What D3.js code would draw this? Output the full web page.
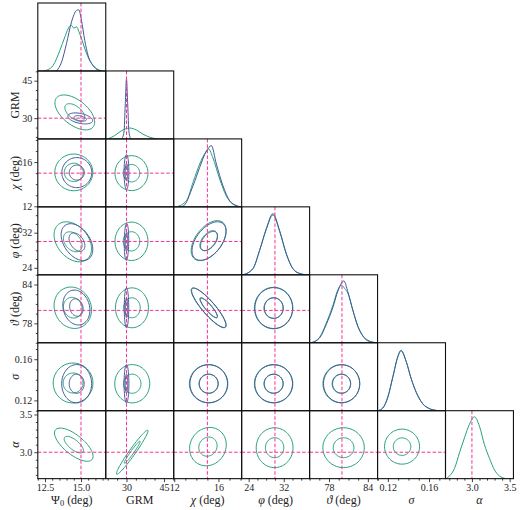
<!DOCTYPE html>
<html><head><meta charset="utf-8">
<script src="https://cdn.jsdelivr.net/npm/d3@7/dist/d3.min.js"></script>
<style>body{margin:0;background:#fff} svg{display:block}</style>
</head><body>
<svg id="corner" width="523" height="510"></svg>
<script>
// ================= DATA =================
const domains=[[12.0,16.72],[21.7,48.9],[11.95,18.1],[22.4,37.9],[75.0,85.5],[0.110,0.176],[2.65,3.55]];
const majorTicks=[[12.5,15.0],[30,45],[12,16],[24,32],[78,84],[0.12,0.16],[3.0,3.5]];
const tickText=[["12.5","15.0"],["30","45"],["12","16"],["24","32"],["78","84"],["0.12","0.16"],["3.0","3.5"]];
const minorStep=[0.5,3.75,1,2,1.5,0.01,0.1];
const truths=[15,30,15,30,80,null,3.0];
// label pieces: [text, style] style: "" roman, "i" italic, "s" subscript
const labels=[
 [["Ψ",""],["0","s"],[" (deg)",""]],
 [["GRM",""]],
 [["χ","i"],[" (deg)",""]],
 [["φ","i"],[" (deg)",""]],
 [["ϑ","i"],[" (deg)",""]],
 [["σ","i"]],
 [["α","i"]]
];

// 1D marginals: [value, height as fraction of the panel]
const margGreen=[
 [[12.42,0],[12.72,.02],[13.06,.08],[13.53,.30],[13.88,.50],[14.22,.66],[14.34,.67],[14.50,.63],[14.69,.65],[14.85,.58],[15.03,.48],[15.38,.26],[15.73,.11],[16.08,.035],[16.42,0]],
 [[22.6,0],[25.3,.05],[28.0,.12],[29.7,.15],[31.3,.16],[34.0,.13],[36.6,.07],[39.3,.025],[42.0,0]],
 [[12.19,0],[13.10,.09],[13.70,.36],[14.30,.63],[14.91,.82],[15.11,.85],[15.50,.72],[16.11,.41],[16.71,.16],[17.31,.04],[17.92,0]],
 [[22.70,0],[24.97,.09],[26.50,.36],[28.03,.67],[29.53,.88],[31.06,.64],[32.58,.31],[34.09,.09],[35.61,.02],[37.14,0]],
 [[75.26,0],[76.54,.08],[77.58,.29],[78.60,.55],[79.37,.78],[79.89,.85],[80.40,.80],[80.91,.73],[81.68,.48],[82.45,.25],[83.23,.10],[83.95,.04],[85.29,0]],
 [[0.1103,0],[0.1151,.04],[0.1200,.2],[0.1249,.5],[0.1297,.79],[0.1328,.88],[0.1379,.72],[0.1427,.47],[0.1476,.27],[0.1540,.10],[0.1605,.03],[0.1670,.005]],
 [[2.659,0],[2.703,.04],[2.769,.15],[2.835,.38],[2.901,.60],[2.967,.80],[3.034,.91],[3.100,.77],[3.166,.50],[3.232,.30],[3.298,.13],[3.364,.04],[3.453,0]]
];
const margBlue=[
 [[13.30,0],[13.65,.13],[13.99,.40],[14.34,.72],[14.69,.89],[14.85,.90],[15.03,.75],[15.26,.45],[15.49,.23],[15.84,.08],[16.19,.01],[16.4,0]],
 [[28.1,0],[29.0,.1],[29.5,.5],[30.0,.88],[30.5,.5],[31.0,.1],[31.7,0]],
 [[12.31,0],[12.79,.01],[13.70,.31],[14.30,.58],[14.91,.82],[15.36,.90],[15.81,.63],[16.41,.31],[17.01,.09],[17.62,.02],[18.0,0]],
 [[22.70,0],[24.97,.09],[26.50,.36],[28.03,.68],[29.53,.90],[31.06,.65],[32.58,.31],[34.09,.09],[35.61,.02],[37.14,0]],
 [[75.26,0],[76.54,.07],[77.58,.27],[78.60,.52],[79.37,.76],[80.29,.91],[80.91,.75],[81.68,.48],[82.45,.24],[83.23,.10],[83.95,.03],[85.29,0]],
 [[0.1103,0],[0.1151,.04],[0.1200,.2],[0.1249,.5],[0.1297,.8],[0.1328,.89],[0.1379,.72],[0.1427,.47],[0.1476,.27],[0.1540,.10],[0.1605,.03],[0.1670,.005]],
 null
];

// 2D contours: [row, col, meanX, meanY, sdX, sdY, rho]  (drawn at 1 and 2 sigma)
const contGreen=[
 [1,0,14.57,32.3,0.69,3.5,-0.55],
 [2,0,14.50,15.07,0.66,0.83,0],
 [2,1,32.0,15.0,3.3,0.79,0],
 [3,0,14.43,29.93,0.65,2.28,-0.35],
 [3,1,32.0,30.04,3.3,2.19,0],
 [3,2,15.11,30.2,0.79,2.28,0.5],
 [4,0,14.43,80.41,0.65,1.6,-0.1],
 [4,1,32.2,80.4,3.3,1.54,0],
 [4,2,15.11,80.4,0.79,1.54,-0.88],
 [4,3,29.69,80.36,2.19,1.6,0],
 [5,0,14.45,0.1369,0.69,0.0097,0],
 [5,1,32.3,0.1362,3.5,0.0093,0],
 [5,2,15.11,0.1362,0.87,0.0093,0],
 [5,3,29.69,0.1362,2.19,0.0093,0],
 [5,4,79.9,0.1362,1.42,0.0093,0],
 [6,0,14.5,3.10,0.67,0.11,-0.7],
 [6,1,32.3,3.0,3.16,0.146,0.97],
 [6,2,15.05,3.074,0.83,0.127,0.1],
 [6,3,29.92,3.06,2.1,0.132,0],
 [6,4,80.25,3.06,1.6,0.132,0],
 [6,5,0.1338,3.074,0.0085,0.116,0]
];
const contBlue=[
 [1,0,14.95,29.9,0.43,1.1,-0.4],
 [2,0,14.71,15.05,0.52,0.68,0],
 [2,1,30.0,15.1,0.48,0.79,0],
 [3,0,14.72,29.86,0.55,2.1,-0.4],
 [3,1,30.0,29.9,0.45,2.1,0.1],
 [3,2,15.15,30.1,0.77,2.2,0.5],
 [4,0,14.68,80.44,0.47,1.35,-0.15],
 [4,1,30.0,80.4,0.45,1.54,0],
 [4,2,15.13,80.4,0.78,1.52,-0.88],
 [4,3,29.72,80.36,2.15,1.58,0],
 [5,0,14.7,0.1362,0.52,0.0093,0],
 [5,1,30.0,0.1362,0.48,0.0093,0],
 [5,2,15.12,0.1362,0.85,0.0092,0],
 [5,3,29.7,0.1362,2.15,0.0092,0],
 [5,4,79.95,0.1362,1.4,0.0092,0]
];

// ================= LAYOUT =================
const GREEN="#24a07a", BLUE="#44579a", PINK="#f5328f", FONT="'Liberation Serif', serif";
const padL=37.8, padT=3, cell=67.95, n=7;
const svg=d3.select("#corner");
svg.append("rect").attr("width",523).attr("height",510).attr("fill","white");

const xs=domains.map((d,j)=>d3.scaleLinear().domain(d).range([padL+j*cell,padL+(j+1)*cell]));
const ys=domains.map((d,i)=>d3.scaleLinear().domain(d).range([padT+(i+1)*cell,padT+i*cell]));

const defs=svg.append("defs");
for(let i=0;i<n;i++)for(let j=0;j<=i;j++){
 defs.append("clipPath").attr("id",`c${i}${j}`).append("rect")
  .attr("x",padL+j*cell).attr("y",padT+i*cell).attr("width",cell).attr("height",cell);
}

// ================= DIAGONAL =================
for(let i=0;i<n;i++){
 const g=svg.append("g").attr("clip-path",`url(#c${i}${i})`);
 const yh=d3.scaleLinear().domain([0,1]).range([padT+(i+1)*cell,padT+i*cell]);
 const line=d3.line().x(d=>xs[i](d[0])).y(d=>yh(d[1])).curve(d3.curveMonotoneX);
 [[margGreen[i],GREEN],[margBlue[i],BLUE]].forEach(([m,c])=>{
  if(!m)return;
  g.append("path").attr("d",line(m)).attr("fill","none").attr("stroke",c).attr("stroke-width",1);
 });
 if(truths[i]!=null){
  g.append("line").attr("x1",xs[i](truths[i])).attr("x2",xs[i](truths[i]))
   .attr("y1",padT+i*cell).attr("y2",padT+(i+1)*cell)
   .attr("stroke",PINK).attr("stroke-width",1).attr("stroke-dasharray","3.5,2");
 }
}

// ================= CONTOURS =================
function ellipse(c,r){
 const mx=c[2],my=c[3],sx=c[4],sy=c[5],rho=c[6],q=Math.sqrt(1-rho*rho);
 return d3.range(72).map(k=>{const t=k/72*2*Math.PI;
  return [mx+r*sx*Math.cos(t),my+r*sy*(rho*Math.cos(t)+q*Math.sin(t))];});
}
[[contGreen,GREEN],[contBlue,BLUE]].forEach(([list,col])=>{
 list.forEach(c=>{
  const i=c[0],j=c[1];
  const line=d3.line().x(d=>xs[j](d[0])).y(d=>ys[i](d[1])).curve(d3.curveLinearClosed);
  const g=svg.append("g").attr("clip-path",`url(#c${i}${j})`);
  [1,2].forEach(r=>g.append("path").attr("d",line(ellipse(c,r)))
   .attr("fill","none").attr("stroke",col).attr("stroke-width",1));
 });
});

// truth lines in off-diagonal panels
for(let i=1;i<n;i++)for(let j=0;j<i;j++){
 const x0=padL+j*cell,y0=padT+i*cell;
 if(truths[j]!=null) svg.append("line").attr("x1",xs[j](truths[j])).attr("x2",xs[j](truths[j]))
  .attr("y1",y0).attr("y2",y0+cell).attr("stroke",PINK).attr("stroke-width",1).attr("stroke-dasharray","3.5,2");
 if(truths[i]!=null) svg.append("line").attr("y1",ys[i](truths[i])).attr("y2",ys[i](truths[i]))
  .attr("x1",x0).attr("x2",x0+cell).attr("stroke",PINK).attr("stroke-width",1).attr("stroke-dasharray","3.5,2");
}

// ================= FRAMES =================
for(let i=0;i<n;i++)for(let j=0;j<=i;j++){
 svg.append("rect").attr("x",padL+j*cell).attr("y",padT+i*cell).attr("width",cell).attr("height",cell)
  .attr("fill","none").attr("stroke","#111").attr("stroke-width",1.1);
}

// ================= AXES =================
function minors(k){
 const [a,b]=domains[k],s=minorStep[k],m0=majorTicks[k][0];
 const out=[];
 for(let q=Math.ceil((a-m0)/s-1e-9);m0+q*s<=b+1e-12;q++){
  const v=m0+q*s; if(!majorTicks[k].some(t=>Math.abs(t-v)<s*1e-3))out.push(v);
 }
 return out;
}
function writeLabel(sel,k){
 const hasSub=labels[k].some(p=>p[1]==="s");
 labels[k].forEach(([t,s],idx)=>{
  const ts=sel.append("tspan").text(t);
  if(s==="i")ts.attr("font-style","italic");
  if(s==="s")ts.attr("font-size","0.7em").attr("dy","0.25em");
  if(s===""&&idx>0&&hasSub)ts.attr("dy","-0.175em");
 });
}
const bottomY=padT+n*cell;
for(let j=0;j<n;j++){
 const ga=svg.append("g").attr("transform",`translate(0,${bottomY})`)
  .call(d3.axisBottom(xs[j]).tickValues(majorTicks[j]).tickFormat((d,k)=>tickText[j][k]).tickSizeInner(3.5).tickSizeOuter(0).tickPadding(2));
 const gm=svg.append("g").attr("transform",`translate(0,${bottomY})`)
  .call(d3.axisBottom(xs[j]).tickValues(minors(j)).tickFormat("").tickSizeInner(2).tickSizeOuter(0));
 [ga,gm].forEach(g=>{g.select(".domain").remove();g.selectAll("line").attr("stroke","#111").attr("stroke-width",0.8);});
 ga.selectAll("text").attr("font-family",FONT).attr("font-size",10).attr("fill","#222");
 const t=svg.append("text").attr("x",padL+(j+0.5)*cell).attr("y",504)
  .attr("text-anchor","middle").attr("font-family",FONT).attr("font-size",12).attr("fill","#222");
 writeLabel(t,j);
}
for(let i=1;i<n;i++){
 const ga=svg.append("g").attr("transform",`translate(${padL},0)`)
  .call(d3.axisLeft(ys[i]).tickValues(majorTicks[i]).tickFormat((d,k)=>tickText[i][k]).tickSizeInner(3.5).tickSizeOuter(0).tickPadding(2));
 const gm=svg.append("g").attr("transform",`translate(${padL},0)`)
  .call(d3.axisLeft(ys[i]).tickValues(minors(i)).tickFormat("").tickSizeInner(2).tickSizeOuter(0));
 [ga,gm].forEach(g=>{g.select(".domain").remove();g.selectAll("line").attr("stroke","#111").attr("stroke-width",0.8);});
 ga.selectAll("text").attr("font-family",FONT).attr("font-size",10).attr("fill","#222");
 const cy=padT+(i+0.5)*cell;
 const t=svg.append("text").attr("transform",`translate(15,${cy}) rotate(-90)`)
  .attr("text-anchor","middle").attr("dominant-baseline","central")
  .attr("font-family",FONT).attr("font-size",12).attr("fill","#222");
 writeLabel(t,i);
}
</script>
</body></html>
